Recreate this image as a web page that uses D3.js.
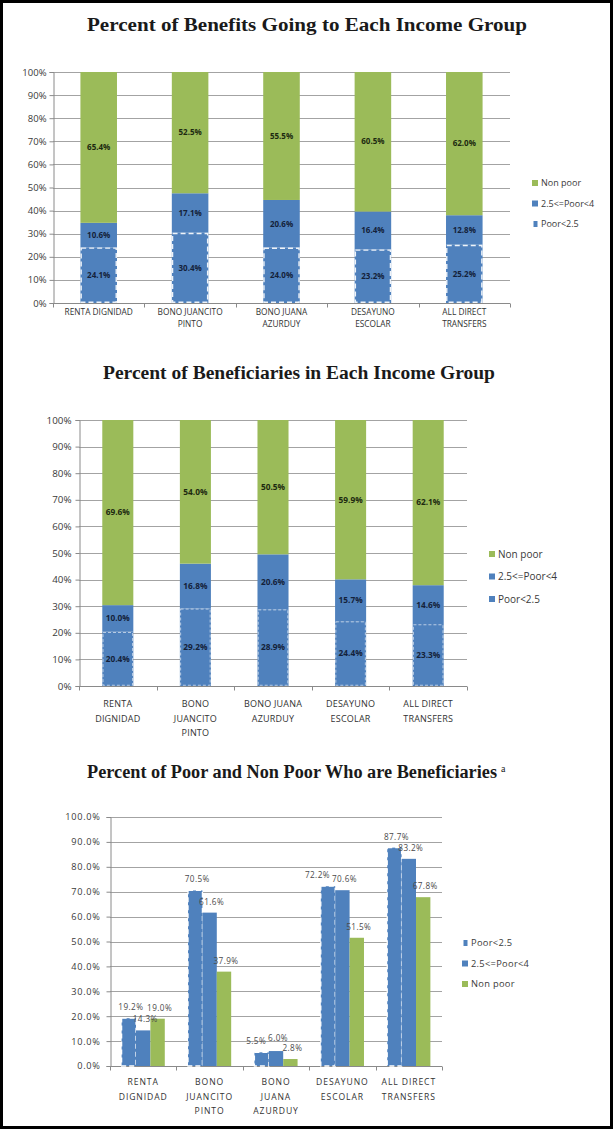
<!DOCTYPE html>
<html>
<head>
<meta charset="utf-8">
<script src="https://cdn.jsdelivr.net/npm/d3@7"></script>
<style>
  body { margin: 0; background: #fff; }
  svg { display: block; }
  text { font-family: "Open Sans", "Liberation Sans", sans-serif; }
  .title { font-family: "Liberation Serif", serif; font-weight: bold; fill: #1a1a1a; }
</style>
</head>
<body>
<div id="chart"></div>
<script>
// Data
const programsA = [["RENTA DIGNIDAD"], ["BONO JUANCITO", "PINTO"], ["BONO JUANA", "AZURDUY"], ["DESAYUNO", "ESCOLAR"], ["ALL DIRECT", "TRANSFERS"]];
const programsB = [["RENTA", "DIGNIDAD"], ["BONO", "JUANCITO", "PINTO"], ["BONO JUANA", "AZURDUY"], ["DESAYUNO", "ESCOLAR"], ["ALL DIRECT", "TRANSFERS"]];
const programsC = [["RENTA", "DIGNIDAD"], ["BONO", "JUANCITO", "PINTO"], ["BONO", "JUANA", "AZURDUY"], ["DESAYUNO", "ESCOLAR"], ["ALL DIRECT", "TRANSFERS"]];

const seriesNames = ["Poor<2.5", "2.5<=Poor<4", "Non poor"];

// Percent of benefits going to each income group
const benefitsPoor = [24.1, 30.4, 24.0, 23.2, 25.2];
const benefitsMid = [10.6, 17.1, 20.6, 16.4, 12.8];
const benefitsNonPoor = [65.4, 52.5, 55.5, 60.5, 62.0];

// Percent of beneficiaries in each income group
const beneficiariesPoor = [20.4, 29.2, 28.9, 24.4, 23.3];
const beneficiariesMid = [10.0, 16.8, 20.6, 15.7, 14.6];
const beneficiariesNonPoor = [69.6, 54.0, 50.5, 59.9, 62.1];

// Percent of poor and non poor who are beneficiaries
const coveragePoor = [19.2, 70.5, 5.5, 72.2, 87.7];
const coverageMid = [14.3, 61.6, 6.0, 70.6, 83.2];
const coverageNonPoor = [19.0, 37.9, 2.8, 51.5, 67.8];

const stackTicks = d3.range(0, 101, 10);
const coverageTicks = d3.range(0, 101, 10);

const blue = "#4f81bd";
const green = "#9bbb59";
const gridColor = "#a3a3a3";
const axisColor = "#8a8a8a";
const colors = [blue, blue, green];

const width = 614;
const height = 1131;

const svg = d3.select("#chart")
  .append("svg")
  .attr("width", width)
  .attr("height", height);

// frame around the whole figure
svg.append("rect")
  .attr("x", 1.5).attr("y", 1.5)
  .attr("width", 610).attr("height", 1126)
  .attr("fill", "none")
  .attr("stroke", "#000")
  .attr("stroke-width", 3);

function addTitle(txt, x, y, w, sup) {
  const t = svg.append("text")
    .attr("class", "title")
    .attr("x", x)
    .attr("y", y)
    .style("font-size", "18px");
  t.append("tspan")
    .attr("textLength", w)
    .attr("lengthAdjust", "spacingAndGlyphs")
    .text(txt);
  if (sup) {
    t.append("tspan")
      .attr("dx", 4)
      .attr("dy", -6)
      .style("font-size", "10px")
      .style("font-weight", "normal")
      .text(sup);
  }
}

function drawAxes(g, x, y, ticks, fmt, cfg) {
  const [x0, x1] = x.range();
  // gridlines
  g.append("g")
    .selectAll("line")
    .data(ticks)
    .join("line")
    .attr("x1", x0).attr("x2", x1)
    .attr("y1", d => Math.round(y(d)) + 0.5)
    .attr("y2", d => Math.round(y(d)) + 0.5)
    .attr("stroke", gridColor)
    .attr("stroke-width", 1);

  const yAxis = g.append("g")
    .attr("transform", `translate(${x0 + 0.5},0)`)
    .call(d3.axisLeft(y).tickValues(ticks).tickSize(4).tickPadding(cfg.tickPad).tickFormat(fmt));
  yAxis.select(".domain").attr("stroke", axisColor);
  yAxis.selectAll(".tick line").attr("stroke", axisColor);
  yAxis.selectAll(".tick text")
    .attr("fill", "#3a3a3a")
    .style("font-size", cfg.yFont + "px")
    .style("letter-spacing", cfg.yLetter + "px")
    .style("font-family", "'Open Sans', sans-serif");

  // bottom line with boundary ticks
  const base = Math.round(y(0)) + 0.5;
  g.append("line")
    .attr("x1", x0).attr("x2", x1)
    .attr("y1", base).attr("y2", base)
    .attr("stroke", axisColor);
  g.append("g")
    .selectAll("line")
    .data(d3.range(x.domain().length + 1))
    .join("line")
    .attr("x1", i => Math.round(x0 + i * x.step()) + 0.5)
    .attr("x2", i => Math.round(x0 + i * x.step()) + 0.5)
    .attr("y1", base).attr("y2", base + 4)
    .attr("stroke", axisColor);

  // category labels, several lines each
  const cat = g.append("g")
    .selectAll("text")
    .data(x.domain())
    .join("text")
    .attr("text-anchor", "middle")
    .attr("fill", "#333")
    .style("font-size", cfg.xFont + "px")
    .style("letter-spacing", cfg.xLetter + "px");
  cat.selectAll("tspan")
    .data((d, i) => cfg.labels[i].map(line => ({ line, i })))
    .join("tspan")
    .attr("x", d => x(d.i) + x.bandwidth() / 2)
    .attr("y", (d, j) => cfg.labelY + j * cfg.labelGap)
    .text(d => d.line);
}

function drawLegend(cfg) {
  const legend = svg.append("g")
    .attr("transform", `translate(${cfg.x},${cfg.y})`);
  const items = legend.selectAll("g")
    .data(cfg.order)
    .join("g")
    .attr("transform", (d, i) => `translate(0,${i * cfg.gap})`);
  items.append("rect")
    .attr("x", d => d === 0 && cfg.thinPoor ? 1.5 : 0)
    .attr("y", -3)
    .attr("width", d => d === 0 && cfg.thinPoor ? 4 : 6)
    .attr("height", 6)
    .attr("fill", d => colors[d]);
  items.append("text")
    .attr("x", 9)
    .attr("dy", "0.35em")
    .attr("fill", "#3a3a3a")
    .style("font-size", cfg.font + "px")
    .style("letter-spacing", (cfg.letter || 0) + "px")
    .text(d => seriesNames[d]);
}

function stackedChart(cfg) {
  const rows = cfg.labels.map((l, i) => ({
    idx: i,
    poor: cfg.poor[i],
    mid: cfg.mid[i],
    non: cfg.non[i]
  }));
  const series = d3.stack().keys(["poor", "mid", "non"])(rows);

  const x = d3.scaleBand()
    .domain(rows.map(d => d.idx))
    .range(cfg.xRange)
    .paddingInner(cfg.pad)
    .paddingOuter(cfg.pad / 2);
  const y = d3.scaleLinear().domain([0, 100]).range(cfg.yRange);

  const g = svg.append("g");
  drawAxes(g, x, y, stackTicks, d => d + "%", cfg);

  const layers = g.append("g")
    .selectAll("g")
    .data(series)
    .join("g")
    .attr("fill", (d, i) => colors[i]);

  layers.selectAll("rect")
    .data(d => d)
    .join("rect")
    .attr("x", d => x(d.data.idx))
    .attr("y", d => y(Math.min(d[1], 100)))
    .attr("width", x.bandwidth())
    .attr("height", d => y(d[0]) - y(Math.min(d[1], 100)));

  // dashed white outline on the poorest segment
  g.append("g")
    .selectAll("rect")
    .data(series[0])
    .join("rect")
    .attr("x", d => x(d.data.idx) + 0.75)
    .attr("y", d => y(d[1]) + 0.75)
    .attr("width", x.bandwidth() - 1.5)
    .attr("height", d => y(d[0]) - y(d[1]) - 1.5)
    .attr("fill", "none")
    .attr("stroke", "#fff")
    .attr("stroke-opacity", cfg.dashOpacity)
    .attr("stroke-width", cfg.dashWidth)
    .attr("stroke-dasharray", cfg.dash);

  // value labels in the middle of each segment
  g.append("g")
    .selectAll("g")
    .data(series)
    .join("g")
    .selectAll("text")
    .data(d => d.map(v => ({ v, key: d.key })))
    .join("text")
    .attr("x", d => x(d.v.data.idx) + x.bandwidth() / 2)
    .attr("y", d => y((d.v[0] + d.v[1]) / 2))
    .attr("dy", "0.35em")
    .attr("text-anchor", "middle")
    .attr("fill", d => d.key === "non" ? "#1d2a10" : "#14213a")
    .style("font-size", cfg.valFont + "px")
    .style("font-weight", "bold")
    .text(d => d.v.data[d.key].toFixed(1) + "%");

  drawLegend(cfg.legend);
}

function groupedChart(cfg) {
  const keys = [0, 1, 2];
  const values = [cfg.poor, cfg.mid, cfg.non];

  const x = d3.scaleBand()
    .domain(cfg.labels.map((d, i) => i))
    .range(cfg.xRange)
    .paddingInner(cfg.pad)
    .paddingOuter(cfg.pad / 2);
  const xs = d3.scaleBand().domain(keys).range([0, x.bandwidth()]);
  const y = d3.scaleLinear().domain([0, 100]).range(cfg.yRange);

  const g = svg.append("g");
  drawAxes(g, x, y, coverageTicks, d => d.toFixed(1) + "%", cfg);

  const groups = g.append("g")
    .selectAll("g")
    .data(x.domain())
    .join("g")
    .attr("transform", d => `translate(${x(d)},0)`);

  groups.selectAll("rect")
    .data(i => keys.map(k => ({ k, v: values[k][i] })))
    .join("rect")
    .attr("x", d => xs(d.k))
    .attr("y", d => y(d.v))
    .attr("width", xs.bandwidth())
    .attr("height", d => y(0) - y(d.v))
    .attr("fill", d => colors[d.k])
    .attr("stroke", d => d.k === 0 ? "#fff" : "none")
    .attr("stroke-width", 1.3)
    .attr("stroke-dasharray", "5,3");

  // value labels above bars; nudge neighbours apart when they collide
  groups.each(function(i) {
    const labels = keys.map(k => ({
      k,
      v: values[k][i],
      cx: xs(k) + xs.bandwidth() / 2 + 2,
      by: y(values[k][i]) - 8
    }));
    const texts = d3.select(this).selectAll("text")
      .data(labels)
      .join("text")
      .attr("text-anchor", "middle")
      .attr("fill", "#4a4a4a")
      .style("font-size", cfg.valFont + "px")
      .style("letter-spacing", "0.4px")
      .text(d => d.v.toFixed(1) + "%");
    texts.each(function(d) { d.w = this.getComputedTextLength() + 2; });
    const h = 9;
    for (let j = 1; j < labels.length; j++) {
      const a = labels[j - 1], b = labels[j];
      const overlapY = Math.abs(a.by - b.by) < h;
      const overlapX = (a.cx + a.w / 2) - (b.cx - b.w / 2);
      if (overlapY && overlapX > 0) {
        if (j === 1) a.cx -= overlapX;
        else a.by = b.by - h - 1;
      }
    }
    texts.attr("x", d => d.cx).attr("y", d => d.by);
  });

  drawLegend(cfg.legend);
}

addTitle("Percent of Benefits Going to Each Income Group", 87, 31, 440);
stackedChart({
  labels: programsA,
  poor: benefitsPoor, mid: benefitsMid, non: benefitsNonPoor,
  xRange: [53, 510], yRange: [303, 72], pad: 0.6,
  yFont: 9.5, yLetter: 0, tickPad: 3,
  xFont: 8.3, xLetter: 0, labelY: 315, labelGap: 11.5,
  valFont: 8, dash: "5,3", dashWidth: 1.4, dashOpacity: 0.9,
  legend: { x: 532, y: 183, gap: 20.5, font: 9, order: [2, 1, 0], thinPoor: true }
});

addTitle("Percent of Beneficiaries in Each Income Group", 103, 379, 392);
stackedChart({
  labels: programsB,
  poor: beneficiariesPoor, mid: beneficiariesMid, non: beneficiariesNonPoor,
  xRange: [79, 467], yRange: [686, 420], pad: 0.6,
  yFont: 9.8, yLetter: 0, tickPad: 4,
  xFont: 9, xLetter: 0.2, labelY: 707, labelGap: 14.5,
  valFont: 8.3, dash: "3,2", dashWidth: 0.8, dashOpacity: 0.75,
  legend: { x: 489, y: 554, gap: 22.5, font: 10, order: [2, 1, 0] }
});

addTitle("Percent of Poor and Non Poor Who are Beneficiaries", 87, 778, 410, "a");
groupedChart({
  labels: programsC,
  poor: coveragePoor, mid: coverageMid, non: coverageNonPoor,
  xRange: [110, 442], yRange: [1066, 817], pad: 0.35,
  yFont: 9.2, yLetter: 0.7, tickPad: 6,
  xFont: 8.6, xLetter: 0.9, labelY: 1085, labelGap: 14.5,
  valFont: 8.2,
  legend: { x: 462, y: 943, gap: 20.5, font: 9.3, letter: 0.3, order: [0, 1, 2], thinPoor: true }
});
</script>
</body>
</html>
